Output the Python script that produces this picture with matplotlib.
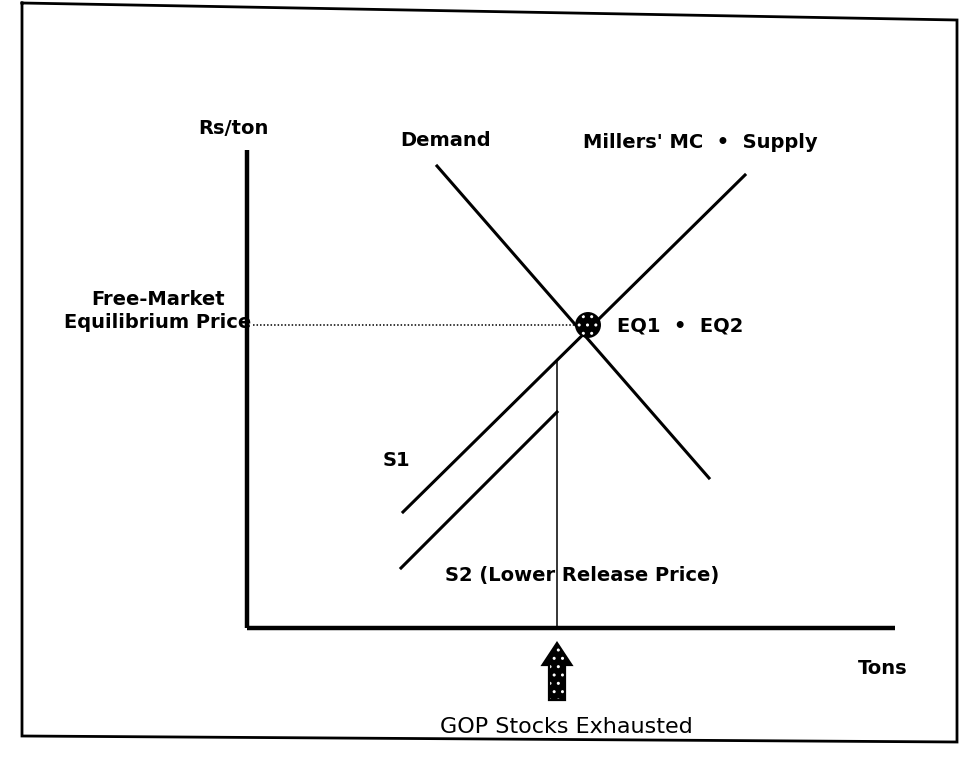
import matplotlib
matplotlib.use("Agg")
import matplotlib.pyplot as plt
from matplotlib.patches import Circle, FancyArrow

plt.rcParams['font.family'] = ['DejaVu Sans']
plt.rcParams['hatch.linewidth'] = 1.0

# quantities / prices in diagram units (origin = axis corner)
axis_q_max = 648
axis_p_max = 478

demand_q = [190, 462]
demand_p = [462, 150]
supply_q = [156, 498]          # S1 = Millers' MC = Supply
supply_p = [116, 453]
s2_q = [154, 310]              # S2 (lower release price)
s2_p = [60, 216]

eq_q, eq_p = 341, 303
stock_q = 310                  # GOP stocks exhausted
stock_p_top = 268

# scanned frame (slightly tilted)
frame_q = [-225, 710, 710, -225, -225]
frame_p = [625, 608, -114, -108, 625]

fig = plt.figure(figsize=(9.64, 7.62), dpi=100)
ax = fig.add_axes([0, 0, 1, 1])
ax.set_xlim(-247, 717)
ax.set_ylim(-134, 628)
ax.axis('off')

ax.plot(frame_q, frame_p, color='black', lw=2.0, solid_joinstyle='miter')

# axes of the diagram
ax.plot([0, 0], [0, axis_p_max], color='black', lw=3.2, solid_capstyle='butt')
ax.plot([0, axis_q_max], [0, 0], color='black', lw=3.2, solid_capstyle='butt')

# curves
ax.plot(demand_q, demand_p, color='black', lw=2.2)
ax.plot(supply_q, supply_p, color='black', lw=2.2)
ax.plot(s2_q, s2_p, color='black', lw=2.2)

# guide lines
ax.plot([6, eq_q], [eq_p, eq_p], color='black', lw=1.1, ls=(0, (1, 1.3)))
ax.plot([stock_q, stock_q], [0, stock_p_top], color='black', lw=1.1)

# equilibrium dot
ax.add_patch(Circle((eq_q, eq_p), 12, facecolor='black', edgecolor='white',
                    hatch='..', lw=0, zorder=5))
ax.add_patch(Circle((eq_q, eq_p), 12, fill=False, edgecolor='black', lw=1.4, zorder=6))

# arrow under the axis
for kw in (dict(facecolor='black', edgecolor='white', hatch='..', lw=0),
           dict(fill=False, edgecolor='black', lw=1.6)):
    ax.add_patch(FancyArrow(stock_q, -72, 0, 57, width=16, head_width=29,
                            head_length=22, length_includes_head=True, **kw))

fs = 14
txt = dict(fontsize=fs, fontweight='bold', color='black', va='center')
ax.text(-14, 500, 'Rs/ton', ha='center', **txt)
ax.text(153, 488, 'Demand', ha='left', **txt)
ax.text(336, 485, "Millers' MC  \u2022  Supply", ha='left', **txt)
ax.text(-89, 317, 'Free-Market\nEquilibrium Price', ha='center',
        linespacing=1.25, **txt)
ax.text(370, 302, 'EQ1  \u2022  EQ2', ha='left', **txt)
ax.text(136, 168, 'S1', ha='left', **txt)
ax.text(198, 53, 'S2 (Lower Release Price)', ha='left', **txt)
ax.text(611, -40, 'Tons', ha='left', **txt)
ax.text(319, -99, 'GOP Stocks Exhausted', ha='center', fontsize=16,
        color='black', va='center')

fig.savefig('out.png', dpi=100)
